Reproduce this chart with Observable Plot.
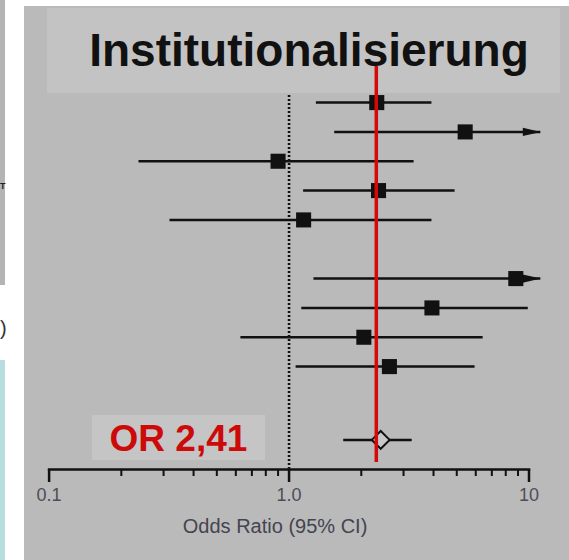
<!DOCTYPE html>
<html>
<head>
<meta charset="utf-8">
<script src="https://cdn.jsdelivr.net/npm/d3@7"></script>
<script src="https://cdn.jsdelivr.net/npm/@observablehq/plot@0.6"></script>
<style>
  html, body { margin: 0; padding: 0; background: #ffffff; }
  #wrap { position: relative; width: 569px; height: 560px; overflow: hidden; font-family: "Liberation Sans", Arial, sans-serif; }
  .abs { position: absolute; }
  #chart { position: absolute; left: 0; top: 0; }
  #chart svg { overflow: visible; }
</style>
</head>
<body>
<div id="wrap">
  <div class="abs" style="left:0;top:0;width:5px;height:285px;background:#b4b4b4"></div>
  <div class="abs" style="left:0;top:182px;font:bold 9px/9px 'Liberation Sans',Arial;color:#222">T</div>
  <div class="abs" style="left:0;top:318px;font:20px/20px 'Liberation Sans',Arial;color:#333">)</div>
  <div class="abs" style="left:0;top:360px;width:5px;height:200px;background:#b6dde0"></div>
  <div class="abs" style="left:24px;top:6px;width:545px;height:554px;background:#bababa"></div>
  <div class="abs" style="left:47px;top:8px;width:513px;height:85px;background:#c3c3c3"></div>
  <div class="abs" id="title" style="left:47px;width:524px;top:27px;text-align:center;font:bold 46px/46px 'Liberation Sans',Arial;color:#111"></div>
  <div class="abs" style="left:92px;top:415px;width:173px;height:45px;background:#c5c5c5"></div>
  <div class="abs" id="orlabel" style="left:92px;width:173px;top:420px;text-align:center;font:bold 37px/37px 'Liberation Sans',Arial;color:#cc0a0a"></div>
  <div id="chart"></div>
</div>
<script>
// ---- data ----
const title = "Institutionalisierung";
const rows   = [1, 2, 3, 4, 5, 7, 8, 9, 10];
const orVals = [2.32, 5.42, 0.90, 2.36, 1.15, 8.81, 3.94, 2.05, 2.62];
const loVals = [1.30, 1.55, 0.237, 1.15, 0.319, 1.27, 1.13, 0.63, 1.07];
const hiVals = [3.94, 11.2, 3.32, 4.92, 3.94, 11.2, 9.93, 6.44, 5.96];
const truncated = [false, true, false, false, false, true, false, false, false];
const pooledRow = 12.5;
const pooledOR = 2.41, pooledLo = 1.69, pooledHi = 3.26;
const pooledLabel = "OR 2,41";
const refLineOR = 2.31;      // red summary line as drawn
const nullOR = 1;            // dotted line of no effect
const nullTop = 0.76, nullBottom = 13.5;
const majorTicks = [0.1, 1, 10];
const majorLabels = ["0.1", "1.0", "10"];
const minorTicks = [0.2, 0.3, 0.4, 0.5, 0.6, 0.7, 0.8, 0.9, 2, 3, 4, 5, 6, 7, 8, 9];
const axisTitle = "Odds Ratio (95% CI)";

const studies = rows.map((r, i) => ({row: r, or: orVals[i], lo: loVals[i], hi: hiVals[i], trunc: truncated[i]}));
const pooled = [{row: pooledRow, or: pooledOR, lo: pooledLo, hi: pooledHi}];

document.getElementById("title").textContent = title;
document.getElementById("orlabel").textContent = pooledLabel;

// narrow right-pointing arrowhead, tip at the point
const arrowHead = {
  draw(ctx, size) {
    const r = Math.sqrt(size / Math.PI);
    ctx.moveTo(0, 0);
    ctx.lineTo(-2 * r, -0.45 * r);
    ctx.lineTo(-2 * r, 0.45 * r);
    ctx.closePath();
  }
};

const ink = "#111111";
const labelOf = d => majorLabels[majorTicks.findIndex(t => Math.abs(t - d) < 1e-9)];

const chart = Plot.plot({
  width: 569,
  height: 560,
  marginLeft: 48.6,
  marginRight: 40.5,
  marginTop: 66,
  marginBottom: 98,
  style: {background: "transparent", overflow: "visible", fontFamily: "'Liberation Sans', Arial, sans-serif"},
  x: {type: "log", domain: [0.1, 10]},
  y: {domain: [-0.23, 13.27], reverse: true, axis: null},
  marks: [
    Plot.ruleX([nullOR], {y1: nullTop, y2: nullBottom, stroke: ink, strokeWidth: 2.6, strokeDasharray: "2,2"}),
    Plot.ruleY(studies, {y: "row", x1: "lo", x2: "hi", stroke: ink, strokeWidth: 2.5}),
    Plot.dot(studies.filter(d => d.trunc), {x: "hi", y: "row", symbol: arrowHead, r: 9, fill: ink, stroke: null}),
    Plot.dot(studies, {x: "or", y: "row", symbol: "square", r: 8.5, fill: ink, stroke: null}),
    Plot.ruleY(pooled, {y: "row", x1: "lo", x2: "hi", stroke: ink, strokeWidth: 2.5}),
    Plot.dot(pooled, {x: "or", y: "row", symbol: "diamond2", r: 8, fill: "#c8c8c8", stroke: ink, strokeWidth: 2}),
    Plot.ruleX([refLineOR], {stroke: "#d40a0a", strokeWidth: 3.5}),
    Plot.frame({anchor: "bottom", dy: 7, stroke: ink, strokeWidth: 2.5}),
    Plot.axisX({ticks: minorTicks, tickSize: 7, tickFormat: () => "", dy: 7, stroke: ink, strokeWidth: 2, label: null}),
    Plot.axisX({ticks: majorTicks, tickSize: 13, tickFormat: () => "", dy: 7, stroke: ink, strokeWidth: 2.5, label: null}),
    Plot.axisX({ticks: majorTicks, tickSize: 0, tickPadding: 19, tickFormat: labelOf, dy: 7, fontSize: 18, fill: "#4d4d57", label: null}),
    Plot.text([axisTitle], {frameAnchor: "bottom", dx: -14, dy: 70, fontSize: 20, fill: "#444450"})
  ]
});
document.getElementById("chart").appendChild(chart);
</script>
</body>
</html>
